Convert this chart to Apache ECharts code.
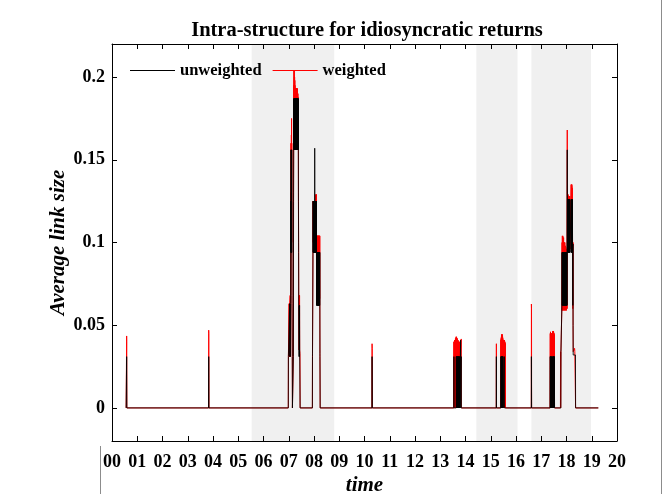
<!DOCTYPE html>
<html>
<head>
<meta charset="utf-8">
<script src="https://cdn.jsdelivr.net/npm/echarts@6/dist/echarts.min.js"></script>
<style>html,body{margin:0;padding:0;background:#fff}#c{width:663px;height:494px}</style>
</head>
<body>
<div id="c"></div>
<script>
const titleText = 'Intra-structure for idiosyncratic returns';
const xTickLabels = ['00','01','02','03','04','05','06','07','08','09','10','11','12','13','14','15','16','17','18','19','20'];
const yTickValues = [0, 0.05, 0.1, 0.15, 0.2];
const yTickLabels = ['0', '0.05', '0.1', '0.15', '0.2'];
const shadedPeriods = [[5.53, 8.80], [14.43, 16.06], [16.61, 18.97]];

const unweighted = [
[0.56,0],
[0.576,0],[0.580,0.031],[0.584,0.031],[0.588,0],
[3.826,0],[3.830,0.031],[3.834,0.031],[3.838,0],
[6.982,0],[6.986,0.031],[7.030,0.031],[7.034,0.063],[7.040,0.031],[7.046,0.063],[7.056,0.063],[7.064,0.031],[7.072,0.063],
[7.076,0.094],[7.080,0.125],[7.084,0.094],[7.088,0.156],[7.092,0.094],[7.096,0.125],[7.100,0.094],[7.104,0.156],[7.108,0.094],[7.112,0.125],[7.116,0.094],[7.120,0.156],[7.124,0.094],[7.128,0.063],[7.134,0.063],[7.140,0.031],[7.146,0],
[7.180,0],[7.184,0.031],[7.190,0.125],[7.196,0.156],
[7.200,0.187],[7.204,0.156],[7.208,0.187],[7.212,0.156],[7.216,0.187],[7.220,0.156],[7.224,0.187],[7.228,0.156],[7.232,0.187],[7.236,0.156],
[7.240,0.187],[7.244,0.156],[7.248,0.187],[7.252,0.156],[7.256,0.187],[7.260,0.156],[7.264,0.187],[7.268,0.156],[7.272,0.187],[7.276,0.156],
[7.280,0.187],[7.284,0.156],[7.288,0.187],[7.292,0.156],[7.296,0.187],[7.300,0.156],[7.304,0.187],[7.308,0.156],[7.312,0.187],[7.316,0.156],
[7.320,0.187],[7.324,0.156],[7.328,0.187],[7.332,0.156],[7.336,0.187],[7.340,0.156],[7.344,0.187],[7.348,0.156],[7.352,0.187],[7.356,0.156],
[7.360,0.187],[7.364,0.156],[7.368,0.187],[7.372,0.156],[7.376,0.187],[7.380,0.156],
[7.384,0.125],[7.390,0.094],[7.396,0.062],[7.404,0.062],[7.410,0.031],[7.416,0.062],[7.422,0.031],[7.428,0.062],[7.434,0.031],[7.446,0.031],[7.450,0],
[7.936,0],[7.940,0.031],[7.956,0.031],[7.960,0.094],[7.964,0.125],[7.968,0.094],[7.972,0.125],[7.976,0.094],[7.980,0.125],[7.984,0.094],[7.988,0.125],[7.992,0.094],[7.996,0.125],
[8.000,0.094],[8.004,0.125],[8.008,0.094],[8.012,0.125],[8.016,0.094],[8.020,0.125],[8.024,0.094],[8.028,0.157],[8.032,0.125],[8.036,0.094],[8.040,0.125],[8.044,0.094],[8.048,0.125],
[8.052,0.094],[8.056,0.125],[8.060,0.094],[8.064,0.125],[8.068,0.094],[8.072,0.125],[8.076,0.094],[8.080,0.125],[8.084,0.094],[8.088,0.125],[8.092,0.094],[8.096,0.125],[8.100,0.094],
[8.104,0.062],[8.108,0.094],[8.112,0.062],[8.116,0.094],[8.120,0.062],[8.124,0.094],[8.128,0.062],[8.132,0.094],[8.136,0.062],[8.140,0.094],[8.144,0.062],[8.148,0.094],[8.152,0.062],
[8.156,0.094],[8.160,0.062],[8.164,0.094],[8.168,0.062],[8.172,0.094],[8.176,0.062],[8.180,0.094],[8.184,0.062],[8.188,0.094],[8.192,0.062],[8.196,0.094],[8.200,0.062],[8.204,0.094],
[8.208,0.062],[8.212,0.094],[8.216,0.062],[8.220,0.094],[8.224,0.062],[8.228,0.094],[8.232,0.062],[8.236,0.031],[8.240,0.031],[8.244,0],
[10.296,0],[10.300,0.031],[10.304,0.031],[10.308,0],
[13.538,0],[13.542,0.031],[13.546,0],
[13.630,0],[13.634,0.031],[13.640,0],[13.644,0.031],[13.650,0],[13.654,0.031],[13.660,0],[13.664,0.031],[13.670,0],[13.674,0.031],[13.680,0],[13.684,0.031],[13.690,0],[13.694,0.031],
[13.700,0],[13.704,0.031],[13.710,0],[13.714,0.031],[13.720,0],[13.724,0.031],[13.730,0],[13.734,0.031],[13.740,0],[13.744,0.031],[13.750,0],[13.754,0.031],[13.760,0],[13.764,0.031],[13.770,0],
[13.802,0],[13.806,0.041],[13.810,0],[13.826,0],[13.830,0.031],[13.834,0],
[15.219,0],[15.223,0.031],[15.227,0],
[15.400,0],[15.404,0.031],[15.410,0],[15.414,0.031],[15.420,0],[15.424,0.031],[15.430,0],[15.434,0.031],[15.440,0],[15.444,0.031],[15.450,0],[15.454,0.031],[15.460,0],[15.464,0.031],
[15.470,0],[15.474,0.031],[15.480,0],[15.484,0.031],[15.490,0],[15.536,0],[15.540,0.031],[15.544,0],
[16.606,0],[16.610,0.031],[16.614,0.031],[16.618,0],
[17.352,0],[17.356,0.031],[17.362,0],[17.366,0.031],[17.372,0],[17.376,0.031],[17.382,0],[17.386,0.031],[17.392,0],[17.396,0.031],[17.402,0],[17.406,0.031],[17.412,0],
[17.446,0],[17.450,0.031],[17.456,0],[17.460,0.031],[17.466,0],[17.470,0.031],[17.476,0],[17.480,0.031],[17.486,0],[17.490,0.031],[17.496,0],[17.500,0.031],[17.506,0],[17.510,0.031],[17.516,0],[17.520,0.031],[17.526,0],
[17.776,0],[17.780,0.034],[17.815,0.034],[17.820,0.064],
[17.825,0.094],[17.830,0.062],[17.835,0.094],[17.840,0.062],[17.845,0.094],[17.850,0.062],[17.855,0.094],[17.860,0.062],[17.865,0.094],[17.870,0.062],[17.875,0.094],[17.880,0.062],
[17.885,0.094],[17.890,0.062],[17.895,0.094],[17.900,0.062],[17.905,0.094],[17.910,0.062],[17.915,0.094],[17.920,0.062],[17.925,0.094],[17.930,0.062],[17.935,0.094],[17.940,0.062],
[17.945,0.094],[17.950,0.062],[17.955,0.094],[17.960,0.062],[17.965,0.094],[17.970,0.062],[17.975,0.094],[17.980,0.062],[17.985,0.094],[17.990,0.062],[17.995,0.094],[18.000,0.062],
[18.005,0.094],[18.010,0.062],[18.015,0.094],[18.020,0.062],[18.025,0.094],[18.030,0.156],[18.035,0.094],[18.040,0.126],[18.045,0.094],[18.050,0.126],[18.055,0.094],[18.060,0.126],
[18.065,0.094],[18.070,0.126],[18.075,0.094],[18.080,0.126],[18.085,0.094],[18.090,0.126],[18.095,0.094],[18.100,0.126],[18.105,0.094],[18.110,0.126],[18.115,0.094],[18.120,0.126],
[18.125,0.094],[18.130,0.126],[18.135,0.094],[18.150,0.094],[18.165,0.094],[18.180,0.094],
[18.185,0.126],[18.190,0.094],[18.195,0.126],[18.200,0.094],[18.205,0.126],[18.210,0.094],[18.215,0.126],[18.220,0.094],[18.225,0.126],[18.230,0.094],[18.235,0.126],[18.240,0.094],
[18.245,0.099],[18.250,0.062],[18.255,0.099],[18.260,0.050],[18.265,0.032],[18.290,0.032],[18.300,0.031],[18.320,0.032],[18.355,0.032],[18.360,0],
[19.26,0]
];

const weighted = [
[0.56,0],
[0.576,0],[0.580,0.0435],[0.584,0.040],[0.588,0],
[3.826,0],[3.830,0.047],[3.834,0.045],[3.838,0],
[6.982,0],[6.986,0.031],[7.010,0.031],[7.014,0.063],[7.020,0.031],[7.026,0.063],[7.032,0.031],[7.038,0.063],[7.046,0.063],[7.056,0.068],[7.064,0.031],[7.072,0.068],
[7.076,0.100],[7.080,0.130],[7.084,0.100],[7.088,0.160],[7.092,0.100],[7.096,0.130],[7.100,0.100],[7.104,0.165],[7.108,0.100],[7.112,0.175],[7.116,0.100],[7.120,0.160],[7.124,0.100],[7.128,0.068],[7.134,0.068],[7.140,0.031],[7.146,0],
[7.180,0],[7.184,0.035],[7.190,0.130],[7.196,0.165],
[7.200,0.195],[7.204,0.170],[7.208,0.204],[7.212,0.170],[7.216,0.204],[7.220,0.170],[7.224,0.200],[7.228,0.170],[7.232,0.200],[7.236,0.170],
[7.240,0.198],[7.244,0.170],[7.248,0.195],[7.252,0.170],[7.256,0.193],[7.260,0.170],[7.264,0.193],[7.268,0.170],[7.272,0.193],[7.276,0.170],
[7.280,0.193],[7.284,0.170],[7.288,0.193],[7.292,0.170],[7.296,0.193],[7.300,0.170],[7.304,0.193],[7.308,0.170],[7.312,0.193],[7.316,0.170],
[7.320,0.193],[7.324,0.170],[7.328,0.193],[7.332,0.170],[7.336,0.193],[7.340,0.170],[7.344,0.193],[7.348,0.170],[7.352,0.190],[7.356,0.170],
[7.360,0.190],[7.364,0.170],[7.368,0.188],[7.372,0.170],[7.376,0.170],[7.380,0.167],
[7.384,0.130],[7.390,0.100],[7.396,0.068],[7.404,0.068],[7.410,0.035],[7.416,0.068],[7.422,0.035],[7.428,0.068],[7.434,0.035],[7.446,0.033],[7.450,0],
[7.936,0],[7.940,0.033],[7.956,0.033],[7.960,0.100],[7.964,0.125],[7.968,0.100],[7.972,0.125],[7.976,0.100],[7.980,0.125],[7.984,0.100],[7.988,0.125],[7.992,0.100],[7.996,0.125],
[8.000,0.100],[8.004,0.125],[8.008,0.100],[8.012,0.125],[8.016,0.100],[8.020,0.125],[8.024,0.100],[8.028,0.125],[8.032,0.100],[8.036,0.125],[8.040,0.100],[8.044,0.125],[8.048,0.100],
[8.052,0.125],[8.056,0.100],[8.060,0.127],[8.064,0.100],[8.068,0.128],[8.072,0.100],[8.076,0.129],[8.080,0.100],[8.084,0.129],[8.088,0.100],[8.092,0.129],[8.096,0.100],[8.100,0.100],
[8.104,0.066],[8.108,0.104],[8.112,0.066],[8.116,0.104],[8.120,0.066],[8.124,0.104],[8.128,0.066],[8.132,0.104],[8.136,0.066],[8.140,0.104],[8.144,0.066],[8.148,0.104],[8.152,0.066],
[8.156,0.104],[8.160,0.066],[8.164,0.104],[8.168,0.066],[8.172,0.104],[8.176,0.066],[8.180,0.104],[8.184,0.066],[8.188,0.104],[8.192,0.066],[8.196,0.104],[8.200,0.066],[8.204,0.104],
[8.208,0.066],[8.212,0.104],[8.216,0.066],[8.220,0.104],[8.224,0.066],[8.228,0.104],[8.232,0.066],[8.236,0.033],[8.240,0.033],[8.244,0],
[10.296,0],[10.300,0.0388],[10.304,0.036],[10.308,0],
[13.538,0],[13.542,0.040],[13.548,0],[13.554,0.040],[13.560,0],[13.566,0.041],[13.572,0],[13.578,0.040],[13.584,0],[13.590,0.041],[13.596,0],[13.602,0.042],[13.608,0],[13.614,0.041],
[13.620,0],[13.626,0.043],[13.632,0],[13.636,0.042],[13.642,0],[13.646,0.043],[13.652,0],[13.656,0.042],[13.662,0],[13.666,0.041],[13.672,0],[13.676,0.042],[13.682,0],[13.686,0.041],
[13.692,0],[13.696,0.040],[13.702,0],[13.706,0.041],[13.712,0],[13.716,0.040],[13.722,0],[13.726,0.040],[13.732,0],[13.736,0.040],[13.742,0],[13.746,0.039],[13.752,0],[13.756,0.040],
[13.762,0],[13.766,0.039],[13.770,0],[13.826,0],[13.830,0.0417],[13.834,0],
[15.219,0],[15.223,0.0388],[15.227,0],
[15.396,0],[15.400,0.041],[15.406,0],[15.410,0.042],[15.416,0],[15.420,0.043],[15.426,0],[15.430,0.0445],[15.436,0],[15.440,0.044],[15.446,0],[15.450,0.043],[15.456,0],[15.460,0.0445],
[15.466,0],[15.470,0.043],[15.476,0],[15.480,0.042],[15.486,0],[15.490,0.041],[15.496,0],[15.500,0.041],[15.506,0],[15.510,0.040],[15.516,0],[15.520,0.041],[15.526,0],[15.530,0.041],
[15.536,0],[15.540,0.041],[15.546,0],[15.560,0],[15.564,0.040],[15.568,0],[15.576,0],[15.580,0.039],[15.584,0],
[16.606,0],[16.610,0.0628],[16.614,0.060],[16.618,0],
[17.352,0],[17.356,0.045],[17.362,0],[17.366,0.046],[17.372,0],[17.376,0.045],[17.382,0],[17.386,0.045],[17.392,0],[17.396,0.045],[17.402,0],[17.406,0.045],[17.412,0],
[17.446,0],[17.450,0.046],[17.456,0],[17.460,0.0465],[17.466,0],[17.470,0.046],[17.476,0],[17.480,0.0465],[17.486,0],[17.490,0.046],[17.496,0],[17.500,0.045],[17.506,0],[17.510,0.045],[17.516,0],[17.520,0.044],[17.526,0],
[17.760,0],[17.764,0.034],[17.768,0],[17.776,0],[17.780,0.034],[17.815,0.034],[17.820,0.064],
[17.825,0.100],[17.830,0.059],[17.835,0.104],[17.840,0.059],[17.845,0.100],[17.850,0.060],[17.855,0.104],[17.860,0.059],[17.865,0.102],[17.870,0.060],[17.875,0.100],[17.880,0.059],
[17.885,0.103],[17.890,0.060],[17.895,0.100],[17.900,0.059],[17.905,0.098],[17.910,0.060],[17.915,0.100],[17.920,0.059],[17.925,0.097],[17.930,0.060],[17.935,0.100],[17.940,0.059],
[17.945,0.096],[17.950,0.060],[17.955,0.098],[17.960,0.059],[17.965,0.096],[17.970,0.060],[17.975,0.097],[17.980,0.059],[17.985,0.096],[17.990,0.060],[17.995,0.096],[18.000,0.059],
[18.005,0.096],[18.010,0.060],[18.015,0.096],[18.020,0.060],[18.025,0.096],[18.030,0.168],[18.035,0.096],[18.040,0.132],[18.045,0.096],[18.050,0.129],[18.055,0.096],[18.060,0.129],
[18.065,0.096],[18.070,0.128],[18.075,0.096],[18.080,0.128],[18.085,0.096],[18.090,0.128],[18.095,0.096],[18.100,0.128],[18.105,0.096],[18.110,0.128],[18.115,0.096],[18.120,0.128],
[18.125,0.096],[18.130,0.128],[18.135,0.096],[18.150,0.097],[18.165,0.096],[18.180,0.097],
[18.185,0.135],[18.190,0.096],[18.195,0.135],[18.200,0.096],[18.205,0.134],[18.210,0.096],[18.215,0.135],[18.220,0.096],[18.225,0.133],[18.230,0.096],[18.235,0.132],[18.240,0.096],
[18.245,0.100],[18.250,0.060],[18.255,0.100],[18.260,0.050],[18.265,0.034],[18.290,0.034],[18.300,0.033],[18.320,0.036],[18.330,0.034],[18.355,0.034],[18.360,0],
[19.26,0]
];

const FONT = 'Liberation Serif';
const chart = echarts.init(document.getElementById('c'), null, {renderer: 'canvas'});

function yLabel(v) {
  const i = yTickValues.findIndex(t => Math.abs(t - v) < 1e-9);
  return i >= 0 ? yTickLabels[i] : '';
}

const axisLineStyle = {color: '#000', width: 1};

chart.setOption({
  animation: false,
  backgroundColor: '#fff',
  title: {
    text: titleText, left: 362, top: 15, textAlign: 'center',
    textStyle: {fontFamily: FONT, fontWeight: 'bold', fontSize: 20.5, color: '#000'}
  },
  legend: {
    left: 130, top: 62, padding: 0, itemGap: 11, itemWidth: 45, itemHeight: 1,
    icon: 'rect',
    textStyle: {fontFamily: FONT, fontWeight: 'bold', fontSize: 16.5, color: '#000'},
    data: ['unweighted', 'weighted']
  },
  graphic: [
    {type: 'line', shape: {x1: 661.5, y1: 0, x2: 661.5, y2: 494}, style: {stroke: '#8c8c8c', lineWidth: 1}, silent: true},
    {type: 'line', shape: {x1: 100.5, y1: 446, x2: 100.5, y2: 494}, style: {stroke: '#8c8c8c', lineWidth: 1}, silent: true}
  ],
  grid: {left: 112, right: 46, top: 44, bottom: 53, outerBoundsMode: 'none', containLabel: false},
  xAxis: [{
    type: 'value', min: 0, max: 20, interval: 1, position: 'bottom', z: 10,
    axisLine: {onZero: false, lineStyle: axisLineStyle},
    axisTick: {inside: true, length: 5, lineStyle: axisLineStyle},
    axisLabel: {formatter: v => xTickLabels[Math.round(v)], fontFamily: FONT, fontWeight: 'bold', fontSize: 18, color: '#000', margin: 12, showMinLabel: true, showMaxLabel: true, hideOverlap: false},
    splitLine: {show: false},
    name: 'time', nameLocation: 'middle', nameGap: 34, nameMoveOverlap: false,
    nameTextStyle: {fontFamily: FONT, fontStyle: 'italic', fontWeight: 'bold', fontSize: 21, color: '#000'}
  }, {
    type: 'value', min: 0, max: 20, interval: 1, position: 'top', z: 10,
    axisLine: {onZero: false, lineStyle: axisLineStyle},
    axisTick: {inside: true, length: 5, lineStyle: axisLineStyle},
    axisLabel: {show: false}, splitLine: {show: false}
  }],
  yAxis: [{
    type: 'value', min: -0.02, max: 0.22, position: 'left', z: 10,
    axisLine: {onZero: false, lineStyle: axisLineStyle},
    axisTick: {inside: true, length: 5, lineStyle: axisLineStyle, customValues: yTickValues},
    axisLabel: {customValues: yTickValues, formatter: yLabel, fontFamily: FONT, fontWeight: 'bold', fontSize: 18, color: '#000', margin: 7},
    splitLine: {show: false},
    name: 'Average link size', nameLocation: 'middle', nameGap: 43, nameRotate: 90, nameMoveOverlap: false,
    nameTextStyle: {fontFamily: FONT, fontStyle: 'italic', fontWeight: 'bold', fontSize: 21, color: '#000'}
  }, {
    type: 'value', min: -0.02, max: 0.22, position: 'right', z: 10,
    axisLine: {onZero: false, lineStyle: axisLineStyle},
    axisTick: {inside: true, length: 5, lineStyle: axisLineStyle, customValues: yTickValues},
    axisLabel: {show: false}, splitLine: {show: false}
  }],
  series: [{
    name: 'shade', type: 'line', data: [], z: 1, silent: true,
    markArea: {silent: true, itemStyle: {color: '#f0f0f0'},
      data: shadedPeriods.map(p => [{xAxis: p[0]}, {xAxis: p[1]}])}
  }, {
    name: 'weighted', type: 'line', data: weighted, symbol: 'none', z: 3,
    lineStyle: {color: '#ff0000', width: 1}, itemStyle: {color: '#ff0000'}
  }, {
    name: 'unweighted', type: 'line', data: unweighted, symbol: 'none', z: 4,
    lineStyle: {color: 'rgba(0,0,0,0.85)', width: 1}, itemStyle: {color: '#000'}
  }]
});
</script>
</body>
</html>
